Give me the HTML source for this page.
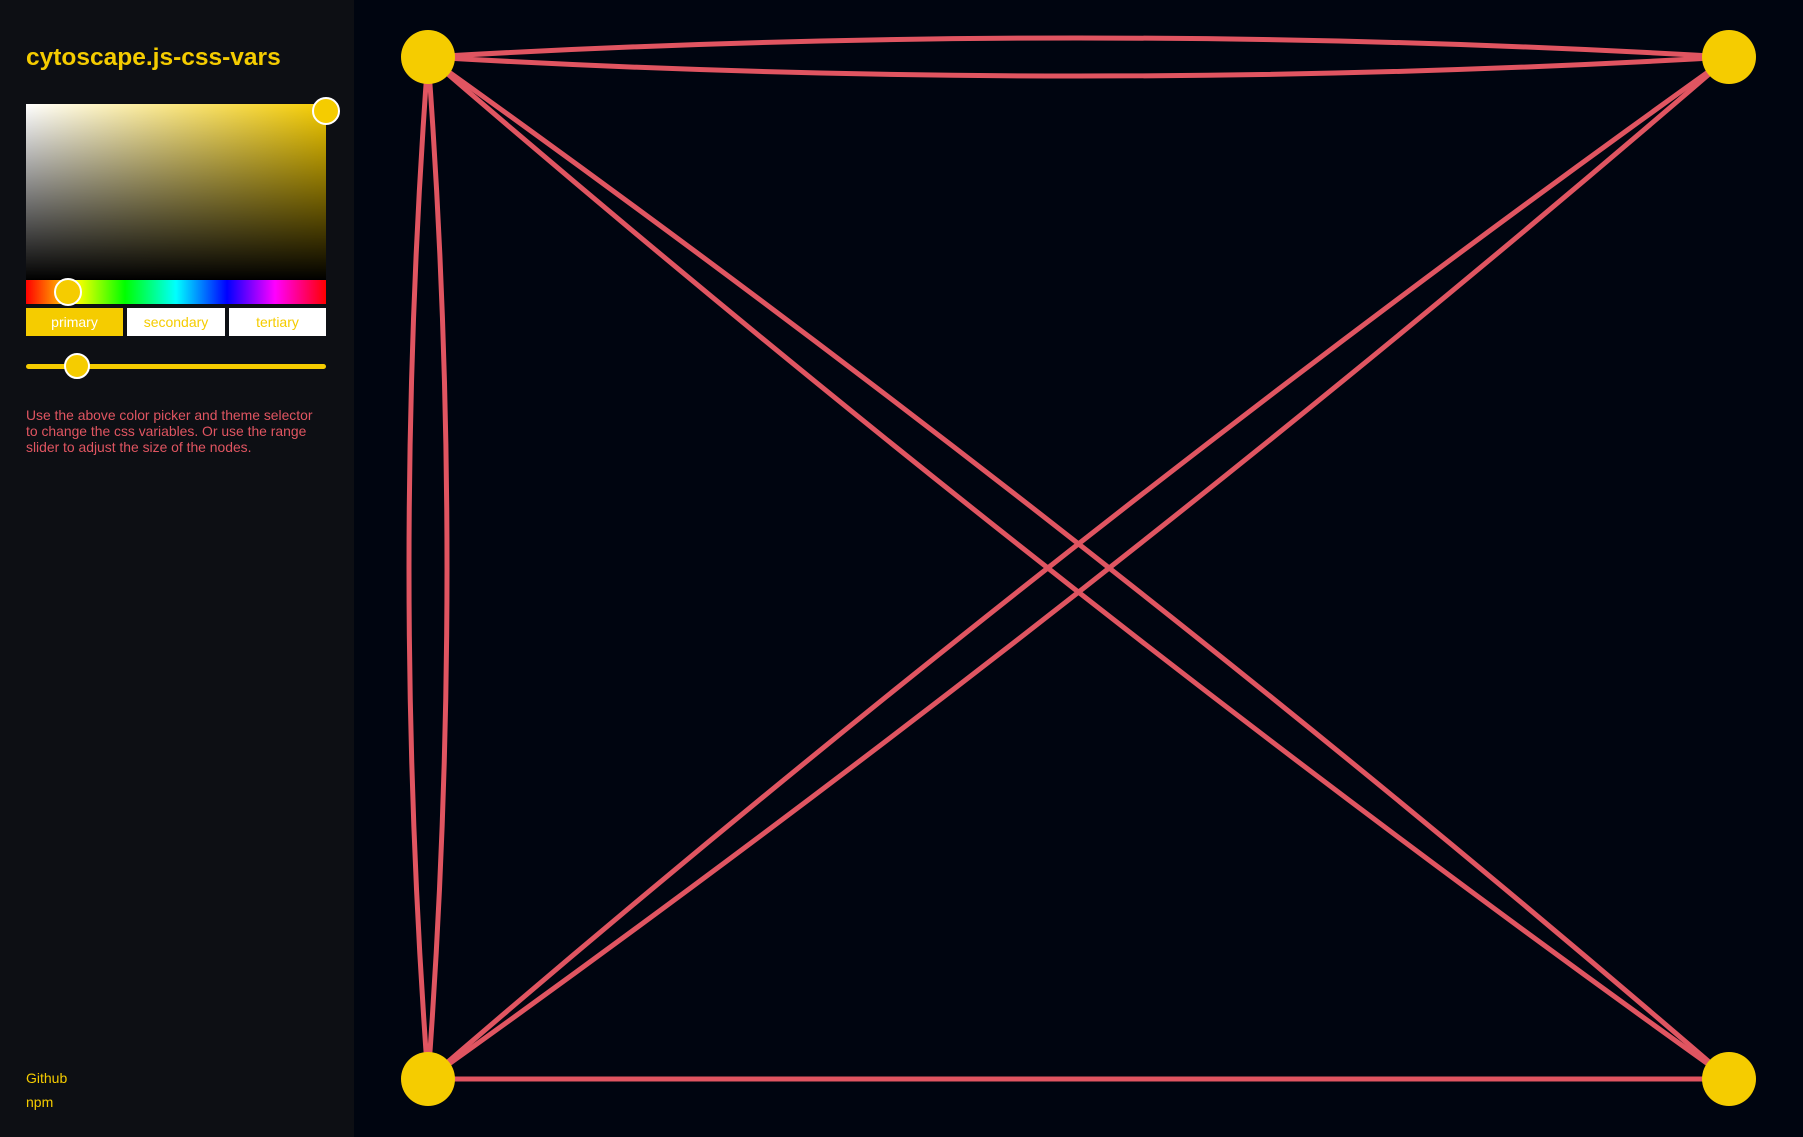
<!DOCTYPE html>
<html><head><meta charset="utf-8"><style>
html,body{margin:0;padding:0;width:1803px;height:1137px;overflow:hidden;background:#000510;font-family:"Liberation Sans",sans-serif}
#side{position:absolute;left:0;top:0;width:354px;height:1137px;background:#0d0f14}
#title{position:absolute;left:26px;top:44px;font-size:24.5px;font-weight:bold;color:#f5cc00;margin:0}
#sv{position:absolute;left:26px;top:104px;width:300px;height:176px;background:linear-gradient(to top,#000,rgba(0,0,0,0)),linear-gradient(to right,#fff,#f5cc00)}
#hue{position:absolute;left:26px;top:280px;width:300px;height:24px;background:linear-gradient(to right,#f00,#ff0 17%,#0f0 33%,#0ff 50%,#00f 67%,#f0f 83%,#f00)}
.knob{position:absolute;width:28px;height:28px;border-radius:50%;background:#f5cc00;border:2px solid #fff;box-sizing:border-box}
.btn{position:absolute;top:308px;height:28px;font-size:14px;line-height:28px;text-align:center;background:#fff;color:#f5cc00}
#track{position:absolute;left:26px;top:364px;width:300px;height:5px;border-radius:3px;background:#f5cc00}
#help{position:absolute;left:26px;top:407px;width:320px;font-size:13.9px;line-height:16px;color:#e05561;white-space:nowrap}
.lnk{position:absolute;left:26px;font-size:14px;color:#f5cc00}
</style></head><body>
<div id="side">
<h1 id="title">cytoscape.js-css-vars</h1>
<div id="sv"></div>
<div class="knob" style="left:312px;top:97px"></div>
<div id="hue"></div>
<div class="knob" style="left:54px;top:278px"></div>
<div class="btn" style="left:26px;width:97px;background:#f5cc00;color:#fff">primary</div>
<div class="btn" style="left:127px;width:98px">secondary</div>
<div class="btn" style="left:229px;width:97px">tertiary</div>
<div id="track"></div>
<div class="knob" style="left:64px;top:353px;width:26px;height:26px"></div>
<div id="help">Use the above color picker and theme selector<br>to change the css variables. Or use the range<br>slider to adjust the size of the nodes.</div>
<div class="lnk" style="top:1070px">Github</div>
<div class="lnk" style="top:1094px">npm</div>
</div>
<svg id="graph" width="1803" height="1137" style="position:absolute;left:0;top:0"></svg>
<script>
const nodeIds=['a','b','c','d'];
const nodeX=[428,1729,428,1729];
const nodeY=[57,57,1079,1079];
const edgeSource=['a','a','a','a','a','a','b','b','c'];
const edgeTarget=['b','b','c','c','d','d','c','c','d'];
const edgeBend=[-1,1,-1,1,-1,1,-1,1,0];
const svg=document.getElementById('graph');
const NS='http://www.w3.org/2000/svg';
const step=38;
function pos(id){const i=nodeIds.indexOf(id);return [nodeX[i],nodeY[i]];}
for(let k=0;k<edgeSource.length;k++){
  const [x1,y1]=pos(edgeSource[k]),[x2,y2]=pos(edgeTarget[k]);
  const dx=x2-x1,dy=y2-y1,L=Math.hypot(dx,dy);
  const nx=-dy/L,ny=dx/L;
  const cx=(x1+x2)/2+nx*step*edgeBend[k],cy=(y1+y2)/2+ny*step*edgeBend[k];
  const p=document.createElementNS(NS,'path');
  p.setAttribute('d',`M${x1},${y1} Q${cx},${cy} ${x2},${y2}`);
  p.setAttribute('fill','none');p.setAttribute('stroke','#e05561');p.setAttribute('stroke-width','5');
  
  
  svg.appendChild(p);
}
for(let i=0;i<nodeIds.length;i++){
  const c=document.createElementNS(NS,'circle');
  c.setAttribute('cx',nodeX[i]);c.setAttribute('cy',nodeY[i]);c.setAttribute('r',27);c.setAttribute('fill','#f5cc00');
  
  
  svg.appendChild(c);
}
</script>
</body></html>
